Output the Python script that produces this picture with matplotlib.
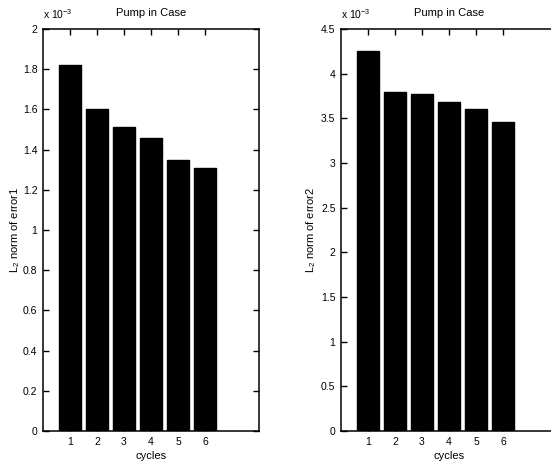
import matplotlib
matplotlib.use('Agg')
import matplotlib.pyplot as plt
import numpy as np

plt.rcParams['font.family'] = ['Liberation Sans', 'DejaVu Sans']
plt.rcParams['mathtext.fontset'] = 'custom'
plt.rcParams['mathtext.rm'] = 'Liberation Sans'

# data (x 1e-3)
cycles = [1, 2, 3, 4, 5, 6]
error1 = [1.82, 1.60, 1.51, 1.46, 1.35, 1.31]
error2 = [4.25, 3.80, 3.77, 3.68, 3.61, 3.46]
title = 'Pump in Case'

fig = plt.figure(figsize=(5.51, 4.61), dpi=100)
ax1 = fig.add_axes([43/551, 30/461, 216/551, 402/461])
ax2 = fig.add_axes([341/551, 30/461, 216/551, 402/461])


def style(ax, vals, ymax, step, label, lx):
    ax.bar(cycles, vals, width=0.82, color='black', edgecolor='black')
    ax.set_xlim(0, 8)
    ax.set_ylim(0, ymax)
    ax.set_xticks(cycles)
    ax.set_yticks(np.arange(0, ymax + step / 2, step))
    ax.yaxis.set_major_formatter(plt.FuncFormatter(lambda v, p: '%g' % round(v, 2)))
    ax.tick_params(direction='in', length=4, width=1, top=True, right=True,
                   labelsize=7.5, pad=4)
    for s in ax.spines.values():
        s.set_linewidth(1.1)
    ax.set_title(title, fontsize=8, pad=9)
    ax.set_xlabel('cycles', fontsize=8, labelpad=3)
    ax.set_ylabel(label, fontsize=8)
    ax.yaxis.set_label_coords(lx, 0.5)
    ax.text(0.0, 1.02, r'x 10$^{-3}$', transform=ax.transAxes,
            fontsize=7.5, ha='left', va='bottom')


style(ax1, error1, 2.0, 0.2, r'L$_2$ norm of error1', -0.095)
style(ax2, error2, 4.5, 0.5, r'L$_2$ norm of error2', -0.105)

fig.savefig('out.png', dpi=100)
